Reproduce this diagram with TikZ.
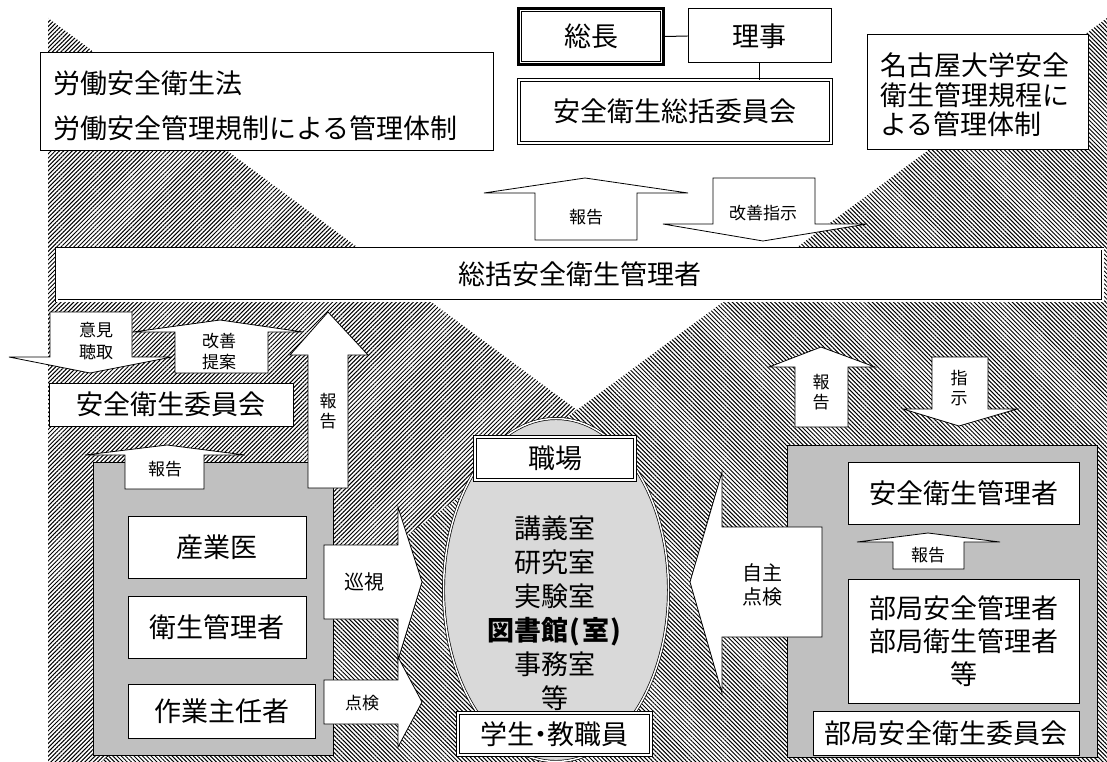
\documentclass[tikz,border=0pt]{standalone}
\usepackage{fontspec}
\setmainfont{Noto Sans CJK JP}
\usetikzlibrary{patterns.meta,shapes.geometric}
\definecolor{boxgrey}{HTML}{C0C0C0}
\definecolor{ovalgrey}{HTML}{D9D9D9}
\begin{document}
\begin{tikzpicture}[x=1pt,y=-1pt,
  big/.style={font=\fontsize{27}{33}\selectfont},
  small/.style={font=\fontsize{17}{19.5}\selectfont},
  mid/.style={font=\fontsize{20}{24}\selectfont},
  box/.style={draw=black, fill=white, line width=1pt, inner sep=0pt, align=center, big},
  dbox/.style={box, double=white, double distance=2pt, line width=0.8pt},
  greybox/.style={draw=black, fill=boxgrey, line width=1pt, inner sep=0pt},
  blk/.style={draw=black, fill=white, line width=0.8pt, line join=miter},
  lbl/.style={inner sep=0pt, align=center},
  hatchL/.style={pattern={Lines[angle=45,distance=3pt,line width=1pt]}},
  hatchR/.style={pattern={Lines[angle=-45,distance=3pt,line width=1pt]}},
]
\useasboundingbox (0,0) rectangle (1107,762);
\fill[white] (0,0) rectangle (1107,762);
% hatched background
\fill[hatchL] (48,18) -- (1052,762) -- (48,762) -- cycle;
\fill[white] (1107,18) -- (1107,762) -- (101,762) -- cycle;
\fill[hatchR] (1107,18) -- (1107,762) -- (101,762) -- cycle;

% top-left law box
\node[box, minimum width=453pt, minimum height=98pt] (law) at (266.5,102) {};
\node[lbl, big, anchor=west] (law1) at (53,83) {労働安全衛生法};
\node[lbl, big, anchor=west] (law2) at (53,128) {労働安全管理規制による管理体制};

% president / director / committee
\node[box, line width=3pt, minimum width=145pt, minimum height=56pt] (socho) at (591,36.5) {総長};
\draw[line width=0.8pt] ([shift={(4.5pt,-4.5pt)}]socho.north west) rectangle ([shift={(-4.5pt,4.5pt)}]socho.south east);
\node[box, minimum width=143pt, minimum height=54pt] (riji) at (759.5,36) {理事};
\draw[line width=1pt] (socho.east) -- (riji.west);
\node[dbox, minimum width=312pt, minimum height=63pt] (soukatsu) at (675,111.5) {安全衛生総括委員会};
\draw[line width=1pt] (riji.south) -- (riji.south |- soukatsu.north);

% Nagoya box
\node[box, minimum width=221pt, minimum height=115pt] (ngy) at (977.5,92.5) {};
\node[lbl, anchor=west, align=left, font=\fontsize{27}{29.5}\selectfont] (ngyt) at (880,95) {名古屋大学安全\\衛生管理規程に\\よる管理体制};

% top arrows
\draw[blk] (585,178) -- (688,193) -- (637,193) -- (637,240) -- (535,240) -- (535,193) -- (484,193) -- cycle;
\node[lbl, small] (rep1) at (586,217) {報告};
\draw[blk] (713,178) -- (815,178) -- (815,224) -- (867,224) -- (763,241) -- (663,224) -- (713,224) -- cycle;
\node[lbl, small] (kaizen) at (763,213) {改善指示};

% general safety manager
\node[dbox, minimum width=1046pt, minimum height=52pt] (sokatsu) at (579.5,274.5) {総括安全衛生管理者};

% left arrows
\draw[blk] (50,312) -- (132,312) -- (132,357) -- (172,357) -- (90,373) -- (9,357) -- (50,357) -- cycle;
\node[lbl, small, font=\fontsize{17}{22}\selectfont] (iken) at (96,341) {意見\\聴取};
\draw[blk] (220,320) -- (303,332) -- (268,332) -- (268,373) -- (175,373) -- (175,332) -- (133,332) -- cycle;
\node[lbl, small, font=\fontsize{17}{21}\selectfont] (teian) at (219,352) {改善\\提案};

\node[box, minimum width=244pt, minimum height=43pt] (eisei) at (171,404.5) {安全衛生委員会};

% left grey box
\node[greybox, minimum width=240pt, minimum height=293pt] (lgrey) at (213,608.5) {};

\draw[blk] (328,312) -- (368,355) -- (348,355) -- (348,488) -- (308,488) -- (308,355) -- (290,355) -- cycle;
\node[lbl, small] (rep2) at (328,411) {報\\告};
\draw[blk] (167,445) -- (245,455) -- (204,455) -- (204,489) -- (125,489) -- (125,455) -- (85,455) -- cycle;
\node[lbl, small] (rep3) at (165,469) {報告};

\node[box, minimum width=178pt, minimum height=62pt] (sangyo) at (217,547) {産業医};
\node[box, minimum width=178pt, minimum height=62pt] (eiseikan) at (217,627) {衛生管理者};
\node[box, minimum width=187pt, minimum height=54pt] (sagyo) at (221.5,711) {作業主任者};

\draw[blk] (324,545) -- (398,545) -- (398,507) -- (422,582) -- (398,660) -- (398,619) -- (324,619) -- cycle;
\node[lbl, mid] (junshi) at (364,582) {巡視};
\draw[blk] (324,680) -- (398,680) -- (398,657) -- (422,702) -- (398,747) -- (398,724) -- (324,724) -- cycle;
\node[lbl, small] (tenken) at (362,703) {点検};

% workplace ellipse
\node[ellipse, draw=black, fill=ovalgrey, double=white, double distance=1.5pt, line width=0.7pt, minimum width=225pt, minimum height=343pt, inner sep=0pt] (oval) at (556,590) {};
\node[dbox, minimum width=160pt, minimum height=43pt] (shokuba) at (555,458.5) {職場};
\node[lbl, font=\fontsize{27}{34}\selectfont] (rooms) at (555,613) {講義室\\研究室\\実験室\\\textbf{図書館\makebox[13.5pt]{(}室\makebox[13.5pt]{)}}\\事務室\\等};
\node[dbox, minimum width=193pt, minimum height=42pt] (gakusei) at (554.5,734) {学生\makebox[13pt]{・}教職員};

% right grey box
\node[greybox, minimum width=310pt, minimum height=312pt] (rgrey) at (942,601) {};
\draw[blk] (822,527) -- (822,637) -- (722,637) -- (722,693) -- (690,582) -- (722,472) -- (722,527) -- cycle;
\node[lbl, font=\fontsize{20}{24}\selectfont] (jishu) at (762,585) {自主\\点検};

\draw[blk] (821,347) -- (875,367) -- (848,367) -- (848,427) -- (795,427) -- (795,367) -- (769,367) -- cycle;
\node[lbl, small] (rep4) at (821,392) {報\\告};
\draw[blk] (932,357) -- (988,357) -- (988,409) -- (1017,409) -- (959,426) -- (903,409) -- (932,409) -- cycle;
\node[lbl, small] (shiji) at (959,388) {指\\示};

\node[box, minimum width=231pt, minimum height=62pt] (anzenR) at (963.5,493) {安全衛生管理者};
\draw[blk] (928,533) -- (1000,542) -- (964,542) -- (964,569) -- (893,569) -- (893,542) -- (857,542) -- cycle;
\node[lbl, small] (rep5) at (928,555) {報告};
\node[box, minimum width=231pt, minimum height=124pt, font=\fontsize{27}{33}\selectfont] (bukyoku) at (963.5,641) {部局安全管理者\\部局衛生管理者\\等};
\node[box, minimum width=266pt, minimum height=44pt] (bukyokuI) at (946,733) {部局安全衛生委員会};
\end{tikzpicture}
\end{document}
